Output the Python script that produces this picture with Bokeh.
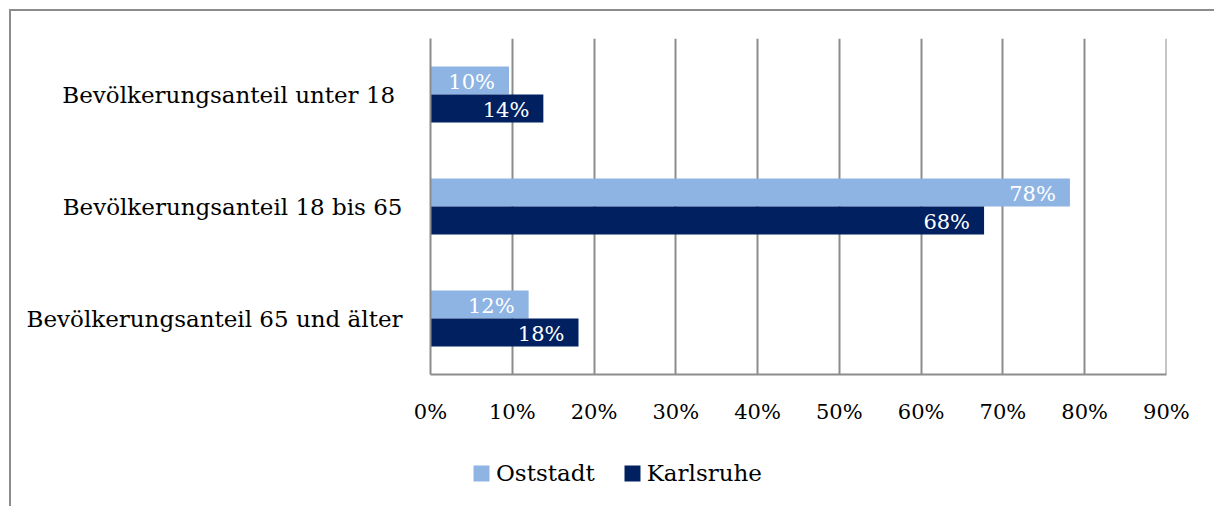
from bokeh.plotting import figure
from bokeh.layouts import column
from bokeh.models import (ColumnDataSource, FactorRange, Range1d, FixedTicker,
                          NumeralTickFormatter, Legend, LegendItem)
from bokeh.transform import dodge
from bokeh.core.properties import value
from bokeh.embed import file_html
from bokeh.resources import INLINE

# ---- data ----
categories = ["Bevölkerungsanteil  unter 18",
              "Bevölkerungsanteil 18 bis 65",
              "Bevölkerungsanteil 65 und älter"]   # top to bottom
series = ["Oststadt", "Karlsruhe"]
oststadt = [0.096, 0.782, 0.120]
karlsruhe = [0.138, 0.677, 0.181]
x_ticks = [0.0, 0.1, 0.2, 0.3, 0.4, 0.5, 0.6, 0.7, 0.8, 0.9]
colors = ["#8EB4E3", "#002060"]

FONT = "DejaVu Serif"
GRID = "#8c8c8c"

src = ColumnDataSource(dict(
    cat=categories,
    ost=oststadt,
    ka=karlsruhe,
    ost_lbl=[f"{round(v * 100)}%" for v in oststadt],
    ka_lbl=[f"{round(v * 100)}%" for v in karlsruhe],
))

p = figure(
    width=1203, height=423,
    y_range=FactorRange(*reversed(categories), range_padding=0),
    x_range=Range1d(0, 0.9001),
    output_backend="svg", toolbar_location=None,
    min_border_left=419, min_border_right=48,
    min_border_top=27, min_border_bottom=60,
)
p.outline_line_color = None
p.background_fill_color = "white"
p.border_fill_color = "white"

r_ost = p.hbar(y=dodge("cat", 0.125, range=p.y_range), left=0, right="ost",
               height=0.25, fill_color=colors[0], line_color=None, source=src)
r_ka = p.hbar(y=dodge("cat", -0.125, range=p.y_range), left=0, right="ka",
              height=0.25, fill_color=colors[1], line_color=None, source=src)

for col, lbl, off in (("ost", "ost_lbl", 0.125), ("ka", "ka_lbl", -0.125)):
    p.text(x=col, y=dodge("cat", off, range=p.y_range), text=lbl, source=src,
           text_align="right", text_baseline="middle", x_offset=-14, y_offset=1,
           text_color="white", text_font=value(FONT), text_font_size="21px")

# x axis
xa = p.xaxis[0]
xa.ticker = FixedTicker(ticks=x_ticks)
xa.formatter = NumeralTickFormatter(format="0%")
xa.axis_line_color = GRID
xa.axis_line_width = 2
xa.major_tick_line_color = None
xa.minor_tick_line_color = None
xa.major_tick_out = 0
xa.major_tick_in = 0
xa.major_label_standoff = 25
xa.major_label_text_font = FONT
xa.major_label_text_font_size = "21px"
xa.major_label_text_color = "black"

# y axis
ya = p.yaxis[0]
ya.axis_line_color = GRID
ya.axis_line_width = 2
ya.major_tick_line_color = None
ya.minor_tick_line_color = None
ya.major_tick_out = 0
ya.major_tick_in = 0
ya.major_label_standoff = 28
ya.major_label_text_font = FONT
ya.major_label_text_font_size = "23px"
ya.major_label_text_color = "black"

p.xgrid.grid_line_color = GRID
p.xgrid.grid_line_width = 2
p.ygrid.grid_line_color = None

# ---- legend strip below the chart ----
q = figure(width=1203, height=72, x_range=Range1d(0, 1),
           y_range=FactorRange(*series),
           x_axis_location=None, y_axis_location=None,
           output_backend="svg", toolbar_location=None, min_border=0)
q.outline_line_color = None
q.grid.visible = False
leg_src = ColumnDataSource(dict(name=series))
# zero-length bars: only serve as legend swatches
l_ost = q.hbar(y="name", left=0, right=0, height=0.5, fill_color=colors[0],
               line_color=None, source=leg_src)
l_ka = q.hbar(y="name", left=0, right=0, height=0.5, fill_color=colors[1],
              line_color=None, source=leg_src)

legend = Legend(
    items=[LegendItem(label=series[0], renderers=[l_ost]),
           LegendItem(label=series[1], renderers=[l_ka])],
    location=(41, 20), orientation="horizontal",
    padding=0, margin=0, spacing=27,
    glyph_width=20, glyph_height=20, label_standoff=5,
    label_text_font=FONT, label_text_font_size="23px", label_text_color="black",
    border_line_color=None, background_fill_alpha=0,
)
q.add_layout(legend)

layout = column(p, q, spacing=0)
layout.styles = {"margin-left": "9px", "margin-top": "9px",
                 "border-top": f"2px solid {GRID}", "border-left": f"2px solid {GRID}"}

open("out.html", "w").write(file_html(layout, INLINE))
